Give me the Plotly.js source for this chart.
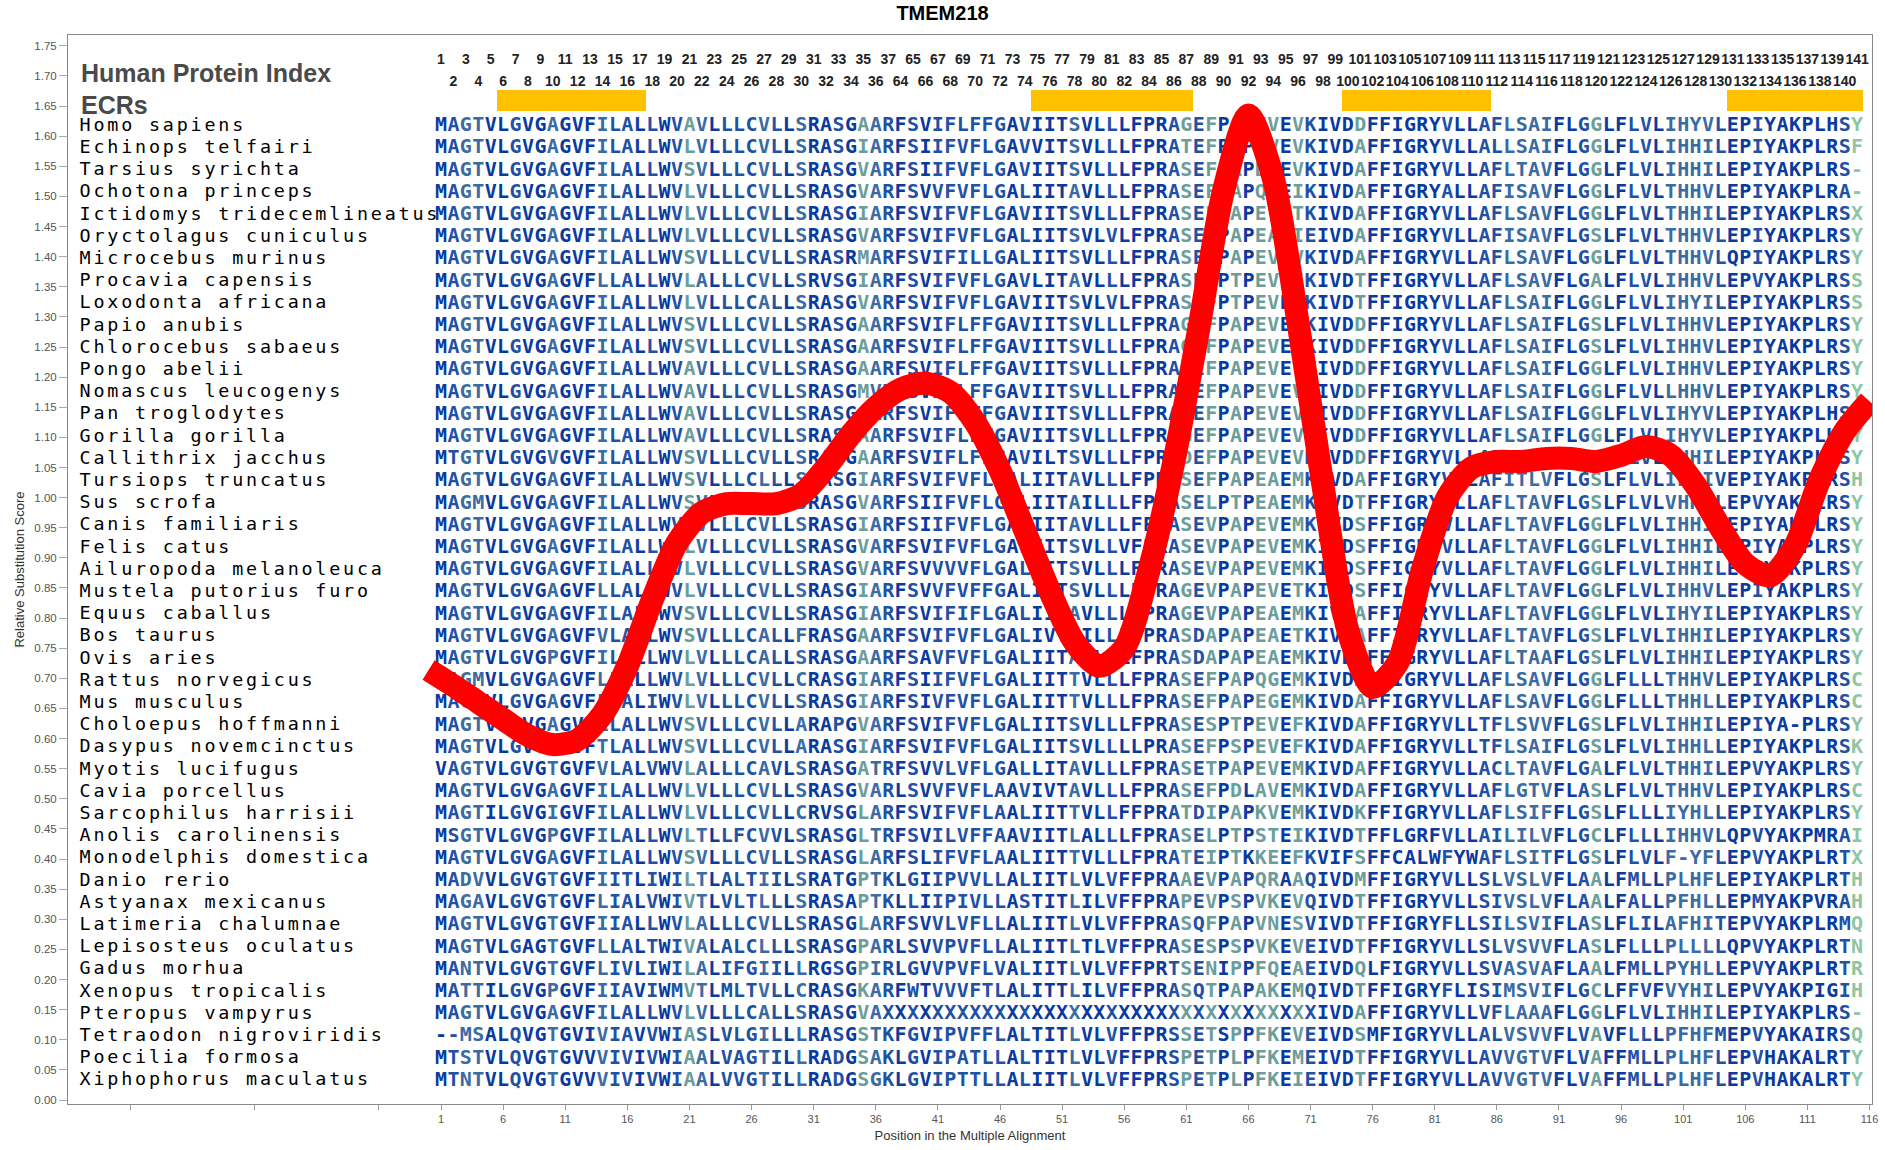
<!DOCTYPE html>
<html><head><meta charset="utf-8">
<script src="https://cdn.plot.ly/plotly-3.0.1.min.js"></script>
<style>
html,body{margin:0;padding:0;background:#fff;}
#chart{width:1885px;height:1150px;}
.tracespc text{letter-spacing:2.8px;}
</style>
</head><body><div id="chart"></div>
<script>
// ---------------- data ----------------
const species = ["Homo sapiens","Echinops telfairi","Tarsius syrichta","Ochotona princeps","Ictidomys tridecemlineatus","Oryctolagus cuniculus","Microcebus murinus","Procavia capensis","Loxodonta africana","Papio anubis","Chlorocebus sabaeus","Pongo abelii","Nomascus leucogenys","Pan troglodytes","Gorilla gorilla","Callithrix jacchus","Tursiops truncatus","Sus scrofa","Canis familiaris","Felis catus","Ailuropoda melanoleuca","Mustela putorius furo","Equus caballus","Bos taurus","Ovis aries","Rattus norvegicus","Mus musculus","Choloepus hoffmanni","Dasypus novemcinctus","Myotis lucifugus","Cavia porcellus","Sarcophilus harrisii","Anolis carolinensis","Monodelphis domestica","Danio rerio","Astyanax mexicanus","Latimeria chalumnae","Lepisosteus oculatus","Gadus morhua","Xenopus tropicalis","Pteropus vampyrus","Tetraodon nigroviridis","Poecilia formosa","Xiphophorus maculatus"];

const sequences = [
 "MAGTVLGVGAGVFILALLWVAVLLLCVLLSRASGAARF"+"SVIFLFFGAVIITSVLLLFPRAGEFPAPEVEVKIVDDF"+"FIGRYVLLAFLSAIFLGGLFLVLIHYVLEPIYAKPLHSY",
 "MAGTVLGVGAGVFILALLWVLVLLLCVLLSRASGIARF"+"SIIFVFLGAVVITSVLLLFPRATEFPIPDVEVKIVDAF"+"FIGRYVLLALLSAIFLGGLFLVLIHHILEPIYAKPLRSF",
 "MAGTVLGVGAGVFILALLWVSVLLLCVLLSRASGVARF"+"SIIFVFLGAVIITSVLLLFPRASEFPAPDAEVKIVDAF"+"FIGRYVLLAFLTAVFLGGLFLVLIHHILEPIYAKPLRS-",
 "MAGTVLGVGAGVFILALLWVLVLLLCVLLSRASGVARF"+"SVVFVFLGALIITAVLLLFPRASEFPAPQVEIKIVDAF"+"FIGRYALLAFISAVFLGGLFLVLTHHVLEPIYAKPLRA-",
 "MAGTVLGVGAGVFILALLWVLVLLLCVLLSRASGIARF"+"SVIFVFLGAVIITSVLLLFPRASEFPAPEVETKIVDAF"+"FIGRYVLLAFLSAVFLGGLFLVLTHHILEPIYAKPLRSX",
 "MAGTVLGVGAGVFILALLWVLVLLLCVLLSRASGVARF"+"SVIFVFLGALIITSVLVLFPRASEFPAPEAEIEIVDAF"+"FIGRYVLLAFISAVFLGSLFLVLTHHVLEPIYAKPLRSY",
 "MAGTVLGVGAGVFILALLWVSVLLLCVLLSRASRMARF"+"SVIFILLGALIITSVLLLFPRASEFPAPEVEVKIVDAF"+"FIGRYVLLAFLSAVFLGGLFLVLTHHVLQPIYAKPLRSY",
 "MAGTVLGVGAGVFLLALLWVLALLLCVLLSRVSGIARF"+"SVIFVFLGAVLITAVLLLFPRASEFPTPEVEIKIVDTF"+"FIGRYVLLAFLSAVFLGALFLVLIHHVLEPVYAKPLRSS",
 "MAGTVLGVGAGVFILALLWVLVLLLCALLSRASGVARF"+"SVIFVFLGAVIITSVLVLFPRASEFPTPEVEIKIVDTF"+"FIGRYVLLAFLSAIFLGGLFLVLIHYILEPIYAKPLRSS",
 "MAGTVLGVGAGVFILALLWVSVLLLCVLLSRASGAARF"+"SVIFLFFGAVIITSVLLLFPRAGEFPAPEVEVKIVDDF"+"FIGRYVLLAFLSAIFLGSLFLVLIHHVLEPIYAKPLRSY",
 "MAGTVLGVGAGVFILALLWVSVLLLCVLLSRASGAARF"+"SVIFLFFGAVIITSVLLLFPRAGEFPAPEVEVKIVDDF"+"FIGRYVLLAFLSAIFLGSLFLVLIHHVLEPIYAKPLRSY",
 "MAGTVLGVGAGVFILALLWVAVLLLCVLLSRASGAARF"+"SVIFLFFGAVIITSVLLLFPRAGEFPAPEVEVKIVDDF"+"FIGRYVLLAFLSAIFLGGLFLVLIHHVLEPIYAKPLRSY",
 "MAGTVLGVGAGVFILALLWVAVLLLCVLLSRASGMVRF"+"SVIFLFFGAVIITSVLLLFPRAGEFPAPEVEVKIVDDF"+"FIGRYVLLAFLSAIFLGGLFLVLLHHVLEPIYAKPLRSY",
 "MAGTVLGVGAGVFILALLWVAVLLLCVLLSRASGAARF"+"SVIFLFFGAVIITSVLLLFPRAGEFPAPEVEVKIVDDF"+"FIGRYVLLAFLSAIFLGGLFLVLIHYVLEPIYAKPLHSY",
 "MAGTVLGVGAGVFILALLWVAVLLLCVLLSRASGAARF"+"SVIFLFFGAVIITSVLLLFPRAGEFPAPEVEVKIVDDF"+"FIGRYVLLAFLSAIFLGGLFLVLIHYVLEPIYAKPLHSY",
 "MTGTVLGVGVGVFILALLWVSVLLLCVLLSRASGAARF"+"SVIFLFFGAVILTSVLLLFPRADEFPAPEVEVKIVDDF"+"FIGRYVLLAFLSAIFLGGLFLVLIHHILEPIYAKPLRSY",
 "MAGTVLGVGAGVFILALLWVSVLLLCLLLSRASGIARF"+"SVIFVFLGALIITAVLLLFPRASEFPAPEAEMKIVDAF"+"FIGRYVLLAFITLVFLGSLFLVLIHHIVEPIYAKPLRSH",
 "MAGMVLGVGAGVFILALLWVSVLLLCVLLSRASGVARF"+"SIIFVFLGALIITAILLLFPRASELPTPEAEMKIVDTF"+"FIGRYVLLAFLTAVFLGSLFLVLVHHILEPVYAKPLRSY",
 "MAGTVLGVGAGVFILALLWVLVLLLCVLLSRASGIARF"+"SIIFVFLGALIITAVLLLFPRASEVPAPEVEMKIVDSF"+"FIGRYVLLAFLTAVFLGGLFLVLIHHILEPIYAKPLRSY",
 "MAGTVLGVGAGVFILALLWVLVLLLCVLLSRASGVARF"+"SVIFVFLGALIITSVLLVFPRASEVPAPEVEMKIVDSF"+"FIGRYVLLAFLTAVFLGGLFLVLIHHILEPIYAKPLRSY",
 "MAGTVLGVGAGVFILALLWVLVLLLCVLLSRASGVARF"+"SVVVVFLGALIITSVLLLFPRASEVPAPEVEMKIVDSF"+"FIGRYVLLAFLTAVFLGGLFLVLIHHILEPIYAKPLRSY",
 "MAGTVLGVGAGVFLLALLWVLVLLLCVLLSRASGIARF"+"SVVFVFFGALIVTSVLLLFPRAGEVPAPEVETKIVDSF"+"FIGRYVLLAFLTAVFLGGLFLVLIHHVLEPIYAKPLRSY",
 "MAGTVLGVGAGVFILALLWVSVLLLCVLLSRASGIARF"+"SVIFIFLGALIITAVLLLFPRAGEVPAPEAEMKIVDAF"+"FIGRYVLLAFLTAVFLGGLFLVLIHYILEPIYAKPLRSY",
 "MAGTVLGVGAGVFVLALLWVSVLLLCALLFRASGAARF"+"SVIFVFLGALIVTAILLLFPRASDAPAPEAETKIVDAF"+"FIGRYVLLAFLTAVFLGSLFLVLIHHILEPIYAKPLRSY",
 "MAGTVLGVGPGVFILALLWVLVLLLCALLSRASGAARF"+"SAVFVFLGALIITAVLLLFPRASDAPAPEAEMKIVDAF"+"FIGRYVLLAFLTAAFLGSLFLVLIHHILEPIYAKPLRSY",
 "MAGMVLGVGAGVFLLALLWVLVLLLCVLLCRASGIARF"+"SIIFVFLGALIITTVLLLFPRASEFPAPQGEMKIVDAF"+"FIGRYVLLAFLSAVFLGGLFLLLTHHVLEPIYAKPLRSC",
 "MAGMVLGVGAGVFLLALIWVLVLLLCVLLSRASGIARF"+"SIVFVFLGALIITTVLLLFPRASEFPAPEGEMKIVDAF"+"FIGRYVLLAFLSAVFLGGLFLLLTHHLLEPIYAKPLRSC",
 "MAGTVLGVGAGVFLLALLWVSVLLLCVLLARAPGVARF"+"SVIFVFLGALIITSVLLLFPRASESPTPEVEFKIVDAF"+"FIGRYVLLTFLSVVFLGSLFLVLIHHILEPIYA-PLRSY",
 "MAGTVLGVGAGVFTLALLWVSVLLLCVLLARASGIARF"+"SVIFVFLGALIITSVLLLLPRASEFPSPEVEFKIVDAF"+"FIGRYVLLTFLSAIFLGSLFLVLIHHLLEPIYAKPLRSK",
 "VAGTVLGVGTGVFVLALVWVLALLLCAVLSRASGATRF"+"SVVLVFLGALLITAVLLLFPRASETPAPEVEMKIVDAF"+"FIGRYVLLACLTAVFLGALFLVLTHHILEPVYAKPLRSY",
 "MAGTVLGVGAGVFILALLWVLVLLLCVLLSRASGVARL"+"SVVFVFLAAVIVTAVLLLFPRASEFPDLAVEMKIVDAF"+"FIGRYVLLAFLGTVFLASLFLVLTHHVLEPIYAKPLRSC",
 "MAGTILGVGIGVFILALLWVLVLLLCVLLCRVSGLARF"+"SVIFVFLAALIITTVLLFFPRATDIPAPKVEMKIVDKF"+"FIGRYVLLAFLSIFFLGSLFLLLIYHLLEPIYAKPLRSY",
 "MSGTVLGVGPGVFILALLWVLTLLFCVVLSRASGLTRF"+"SVILVFFAAVIITLALLLFPRASELPTPSTEIKIVDTF"+"FLGRFVLLAILILVFLGCLFLLLIHHVLQPVYAKPMRAI",
 "MAGTVLGVGAGVFILALLWVSVLLLCVLLSRASGLARF"+"SLIFVFLAALIITTVLLLFPRATEIPTKKEEFKVIFSF"+"FCALWFYWAFLSITFLGSLFLVLF-YFLEPVYAKPLRTX",
 "MADVVLGVGTGVFIITLIWILTLALTIILSRATGPTKL"+"GIIPVVLLALIITLVLVFFPRAAEVPAPQRAAQIVDMF"+"FIGRYVLLSLVSLVFLAALFMLLPLHFLEPIYAKPLRTH",
 "MAGAVLGVGTGVFLIALVWIVTLVLTLLLSRASAPTKL"+"LIIPIVLLASTITLILVFFPRAPEVPSPVKEVQIVDTF"+"FIGRYVLLSIVSLVFLAALFALLPFHLLEPMYAKPVRAH",
 "MAGTVLGVGTGVFIIALLWVLALLLCVLLSRASGLARF"+"SVVLVFLLALIITLVLVFFPRASQFPAPVNESVIVDTF"+"FIGRYFLLSILSVIFLASLFLILAFHITEPVYAKPLRMQ",
 "MAGTVLGAGTGVFLLALTWIVALALCLLLSRASGPARL"+"SVVPVFLLALIITLTLVFFPRASESPSPVKEVEIVDTF"+"FIGRYVLLSLVSVVFLASLFLLLPLLLLQPVYAKPLRTN",
 "MANTVLGVGTGVFLIVLIWILALIFGIILLRGSGPIRL"+"GVVPVFLVALIITLVLVFFPRTSENIPPFQEAEIVDQL"+"FIGRYVLLSVASVAFLAALFMLLPYHLLEPVYAKPLRTR",
 "MATTILGVGPGVFIIAVIWMVTLMLTVLLCRASGKARF"+"WTVVVFTLALITTLILVFFPRASQTPAPAKEMQIVDTF"+"FIGRYFLISIMSVIFLGCLFFVFVYHILEPVYAKPIGIH",
 "MAGTVLGVGAGVFILALLWVLVLLLCALLSRASGVAXX"+"XXXXXXXXXX"+"XXXXXXXXXX"+"XXXXXXXXXX"+"XXX"+"IVDAF"+"FIGRYVLLVFLAAAFLGGLFLVLIHHILEPIYAKPLRS-",
 "--MSALQVGTGVIVIAVVWIASLVLGILLLRASGSTKF"+"GVIPVFFLALTITLVLVFFPRSSETSPPFKEVEIVDSM"+"FIGRYVLLALVSVVFLVAVFLLLPFHFMEPVYAKAIRSQ",
 "MTSTVLQVGTGVVVIVIVWIAALVAGTILLRADGSAKL"+"GVIPATLLALTITLVLVFFPRSPETPLPFKEMEIVDTF"+"FIGRYVLLAVVGTVFLVAFFMLLPLHFLEPVHAKALRTY",
 "MTNTVLQVGTGVVVIVIVWIAALVVGTILLRADGSGKL"+"GVIPTTLLALIITLVLVFFPRSPETPLPFKEIEIVDTF"+"FIGRYVLLAVVGTVFLVAFFMLLPLHFLEPVHAKALRTY"
];

// conservation shade of each alignment column (0 = darkest blue ... 4 = light green)
const columnShade = [
 0,1,2,2,0,0,1,0,0,2, 0,0,0,2,1,1,0,1,0,1, 3,2,0,1,1,1,2,1,0,2, 0,0,1,0,3,2,1,0,
 1,0,1,1,1,1,1,1,0,1, 0,0,0,2,0,0,1,0,0,0, 0,1,3,1,3,0,3,0,3,3, 0,3,1,0,0,0,3,0,
 0,0,0,0,0,1,0,0,1,1, 2,2,2,2,0,0,1,3,0,0, 1,1,0,2,2,2,2,1,0,0, 1,0,0,0,0,0,0,1,4
];

const humanIndex = [1,2,3,4,5,6,7,8,9,10,11,12,13,14,15,16,17,18,19,20,21,22,23,24,25,26,27,28,29,30,31,32,33,34,35,36,37,
 64,65,66,67,68,69,70,71,72,73,74,75,76,77,78,79,80,81,82,83,84,85,86,87,88,89,90,91,92,93,94,95,96,97,98,99,100,
 101,102,103,104,105,106,107,108,109,110,111,112,113,114,115,116,117,118,119,120,121,122,123,124,125,126,127,128,129,130,
 131,132,133,134,135,136,137,138,139,140,141];

// ECRs as alignment column ranges
const ecrStartCol = [6, 49, 74, 105];
const ecrEndCol   = [17, 61, 85, 115];

// Relative substitution score (smoothed curve) by alignment position
const scorePos = [0,2,4,6,8,10,12,14,16,18,20,22,24,26,28,30,32,34,36,38,40,42,44,46,48,50,52,54,56,58,60,62,64,66,68,70,72,74,76,78,80,82,84,86,88,90,92,94,96,98,100,102,104,106,108,110,112,114,116];
const scoreVal = [0.714,0.688,0.66,0.632,0.605,0.59,0.598,0.64,0.72,0.83,0.925,0.975,0.99,0.99,0.99,1.005,1.05,1.105,1.15,1.18,1.19,1.175,1.125,1.045,0.945,0.845,0.76,0.72,0.75,0.88,1.06,1.28,1.51,1.635,1.53,1.29,1.02,0.78,0.685,0.725,0.88,1.0,1.05,1.06,1.06,1.065,1.065,1.06,1.07,1.085,1.07,1.02,0.95,0.89,0.87,0.92,1.03,1.11,1.16];

const xTickVals = [-24,-14,-4,1,6,11,16,21,26,31,36,41,46,51,56,61,66,71,76,81,86,91,96,101,106,111,116];
const xTickText = ["","","","1","6","11","16","21","26","31","36","41","46","51","56","61","66","71","76","81","86","91","96","101","106","111","116"];

// ---------------- layout constants ----------------
const PX_PER_Y = 602.4;          // pixels per y unit
const Y_ZERO_PX = 1100;          // pixel row of y = 0
function pxToY(p){ return (Y_ZERO_PX - p) / PX_PER_Y; }
const ROW0_PX = 126.2, ROW_STEP_PX = 22.2;
const LABEL_X = -28.1;
const PALETTE = ['#0a3a9f','#1f51a5','#3a6ba3','#6b9e9b','#8fc6a2'];

// ---------------- traces ----------------
const rowY = species.map((_, i) => pxToY(ROW0_PX + i * ROW_STEP_PX));

const lx = [], ly = [], lt = [], lc = [];
sequences.forEach((s, i) => {
  for (let k = 0; k < s.length; k++) {
    lx.push(k + 1); ly.push(rowY[i]); lt.push(s[k]);
    lc.push(PALETTE[columnShade[k]]);
  }
});

const oddX = [], oddT = [], evenX = [], evenT = [];
humanIndex.forEach((v, k) => {
  if ((k + 1) % 2 === 1) { oddX.push(k + 1); oddT.push(String(v)); }
  else { evenX.push(k + 1); evenT.push(String(v)); }
});

const ECR_Y = pxToY(100.5), ECR_H = 21 / PX_PER_Y;

const traces = [
  { type:'bar', orientation:'h', y: ecrStartCol.map(() => ECR_Y),
    x: ecrStartCol.map((s, i) => ecrEndCol[i] - s + 1),
    base: ecrStartCol.map(s => s - 0.5), width: ecrStartCol.map(() => ECR_H),
    marker:{color:'#ffc000', line:{width:0}}, hoverinfo:'skip', showlegend:false },
  { type:'scatter', mode:'text', uid:'spc', x: species.map(() => LABEL_X), y: rowY, text: species,
    textposition:'middle right', cliponaxis:false,
    textfont:{family:'DejaVu Sans Mono', size:18.4, color:'#000'}, hoverinfo:'skip', showlegend:false },
  { type:'scatter', mode:'text', x: lx, y: ly, text: lt, textposition:'middle center', cliponaxis:false,
    textfont:{family:'DejaVu Sans Mono', size:20, weight:'bold', color: lc}, hoverinfo:'skip', showlegend:false },
  { type:'scatter', mode:'text', x: oddX, y: oddX.map(() => pxToY(60)), text: oddT, textposition:'middle center',
    textfont:{family:'Liberation Sans', size:14, weight:'bold', color:'#222'}, hoverinfo:'skip', showlegend:false },
  { type:'scatter', mode:'text', x: evenX, y: evenX.map(() => pxToY(82)), text: evenT, textposition:'middle center',
    textfont:{family:'Liberation Sans', size:14, weight:'bold', color:'#222'}, hoverinfo:'skip', showlegend:false },
  { type:'scatter', mode:'lines', x: scorePos, y: scoreVal,
    line:{color:'#ff0000', width:23, shape:'spline', smoothing:0.75}, hoverinfo:'skip', showlegend:false }
];

const layout = {
  width:1885, height:1150,
  margin:{l:68, r:13, t:35, b:46},
  paper_bgcolor:'#ffffff', plot_bgcolor:'#ffffff',
  showlegend:false,
  title:{text:'<b>TMEM218</b>', font:{family:'Liberation Sans', size:20, color:'#000'},
         xref:'container', x:0.5, xanchor:'center', yref:'container', y:1-13/1150, yanchor:'middle'},
  xaxis:{range:[-29.03, 116.2], tickvals:xTickVals, ticktext:xTickText, ticks:'outside', ticklen:5,
         tickcolor:'#999', showgrid:false, zeroline:false, showline:true, mirror:true, linecolor:'#888', linewidth:1,
         tickfont:{family:'Liberation Sans', size:11, color:'#555'},
         title:{text:'Position in the Multiple Alignment', font:{family:'Liberation Sans', size:13, color:'#333'}, standoff:6}},
  yaxis:{range:[pxToY(1104), pxToY(35)], dtick:0.05, tick0:0, tickformat:'.2f', ticks:'outside', ticklen:8,
         tickcolor:'#aaa', showgrid:false, zeroline:false, showline:true, mirror:true, linecolor:'#888', linewidth:1,
         tickfont:{family:'Liberation Sans', size:11.5, color:'#555'},
         title:{text:'Relative Substitution Score', font:{family:'Liberation Sans', size:13, color:'#333'}, standoff:6}},
  bargap:0,
  annotations:[
    {xref:'x', yref:'y', x:LABEL_X - 0.05, y:pxToY(72.5), text:'<b>Human Protein Index</b>', showarrow:false,
     xanchor:'left', yanchor:'middle', font:{family:'Liberation Sans', size:25, color:'#4a4a4a'}},
    {xref:'x', yref:'y', x:LABEL_X - 0.05, y:pxToY(105), text:'<b>ECRs</b>', showarrow:false,
     xanchor:'left', yanchor:'middle', font:{family:'Liberation Sans', size:25, color:'#4a4a4a'}}
  ]
};

Plotly.newPlot('chart', traces, layout, {displayModeBar:false, staticPlot:true});
</script></body></html>
